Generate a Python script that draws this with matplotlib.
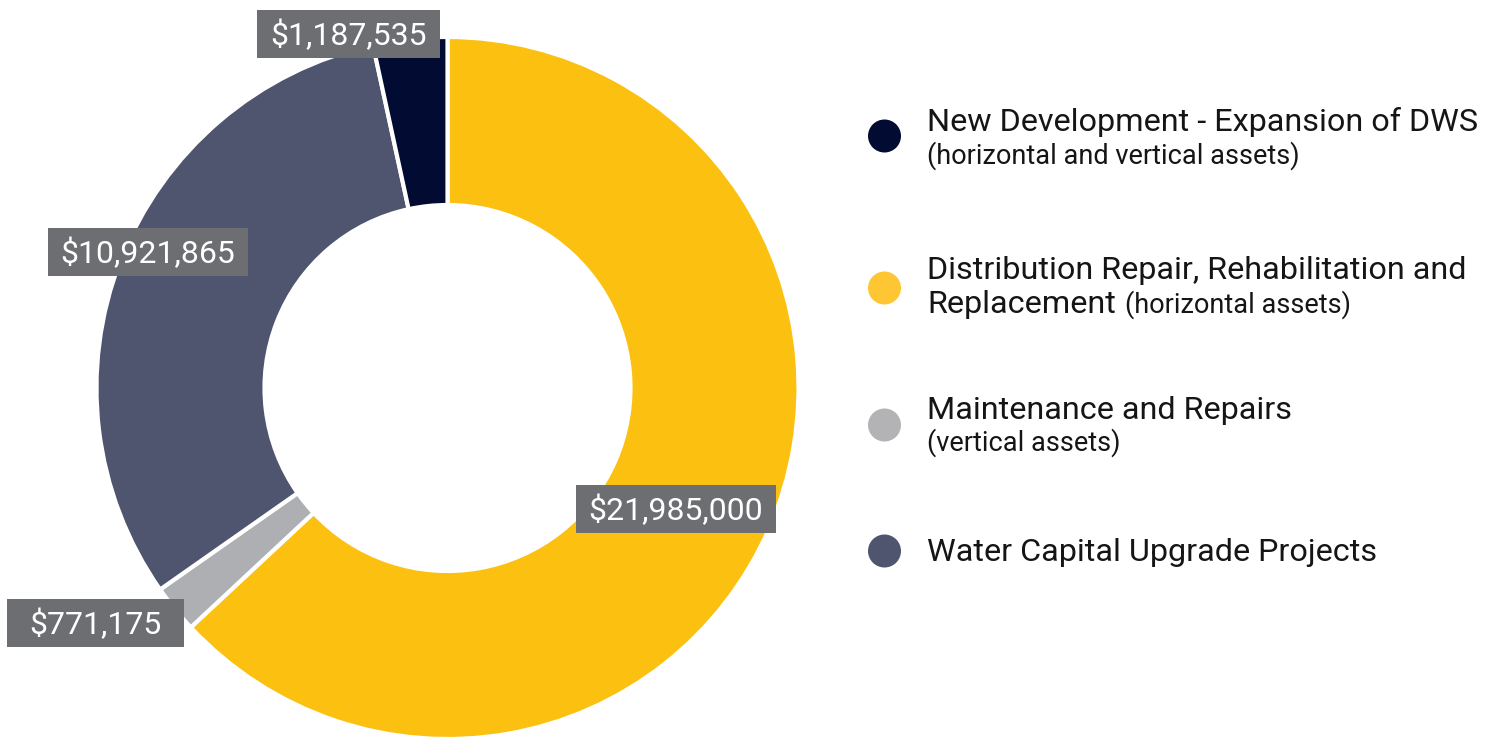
import numpy as np
import matplotlib.pyplot as plt
from matplotlib.patches import Rectangle, Circle

plt.rcParams['font.family'] = ['Roboto', 'DejaVu Sans']

# データ（凡例の順）
categories = [
    "New Development - Expansion of DWS",
    "Distribution Repair, Rehabilitation and\nReplacement",
    "Maintenance and Repairs",
    "Water Capital Upgrade Projects",
]
notes = [
    "(horizontal and vertical assets)",
    "(horizontal assets)",
    "(vertical assets)",
    "",
]
values = [1187535, 21985000, 771175, 10921865]

# ドーナツの描画順（上から時計回り）
pie_order = [1, 2, 3, 0]

slice_colors = ["#020b31", "#fcc010", "#aeafb3", "#4f546f"]
legend_colors = ["#020b31", "#ffc633", "#b3b3b5", "#4f546f"]
box_color = "#6d6e71"
text_color = "#151515"

W, H = 1494, 738


def Y(py):
    # 上からのピクセル位置をデータ座標に変換
    return H - py


fig = plt.figure(figsize=(W / 100, H / 100), dpi=100)
ax = fig.add_axes([0, 0, 1, 1])

ax.pie(
    [values[i] for i in pie_order],
    colors=[slice_colors[i] for i in pie_order],
    startangle=90,
    counterclock=False,
    center=(447.5, Y(388)),
    radius=351,
    wedgeprops=dict(width=168, edgecolor="white", linewidth=3),
)
ax.set_xlim(0, W)
ax.set_ylim(0, H)
ax.set_aspect("equal")
ax.axis("off")

fig.canvas.draw()
renderer = fig.canvas.get_renderer()

# 値ラベル（グレーの箱）
label_centers = [(348.5, 34), (676, 509), (95.5, 623), (148, 252)]
for i, (cx, cy) in enumerate(label_centers):
    t = ax.text(cx, Y(cy + 11.5), f"${values[i]:,}", color="white", fontsize=23,
                ha="center", va="baseline", zorder=5)
    tw = t.get_window_extent(renderer).width
    bw = max(tw + 26, 177)
    ax.add_patch(Rectangle((cx - bw / 2, Y(cy + 24)), bw, 48,
                           facecolor=box_color, edgecolor="none", zorder=4))

# 凡例
marker_y = [136, 288, 425, 551]
main_base = [131, 279, 419, 561]
sub_gap = [33, 0, 32, 0]
for i, name in enumerate(categories):
    ax.add_patch(Circle((884.5, Y(marker_y[i])), 16.5, facecolor=legend_colors[i],
                        edgecolor="none"))
    lines = name.split("\n")
    for j, line in enumerate(lines):
        t = ax.text(927, Y(main_base[i] + 34 * j), line, fontsize=23.3,
                    color=text_color, ha="left", va="baseline")
    if not notes[i]:
        continue
    if len(lines) > 1:
        # 最後の行の後ろに同じベースラインで続ける
        tw = t.get_window_extent(renderer).width
        ax.text(927 + tw + 9, Y(main_base[i] + 34 * (len(lines) - 1)), notes[i],
                fontsize=19.5, color=text_color, ha="left", va="baseline")
    else:
        ax.text(927, Y(main_base[i] + sub_gap[i]), notes[i], fontsize=19.5,
                color=text_color, ha="left", va="baseline")

fig.savefig("out.png", dpi=100)
